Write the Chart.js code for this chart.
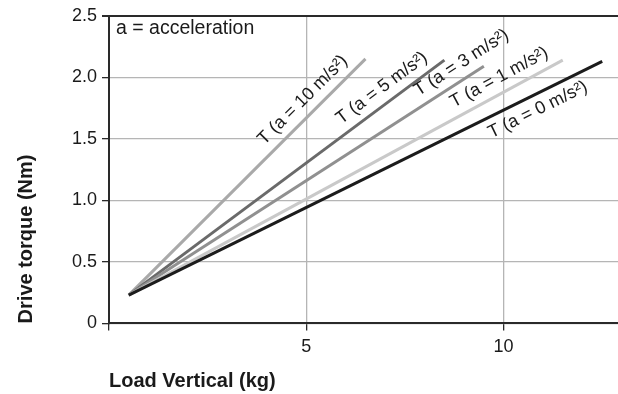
<!DOCTYPE html>
<html>
<head>
<meta charset="utf-8">
<script src="https://cdn.jsdelivr.net/npm/chart.js@4"></script>
<style>
html,body{margin:0;padding:0;background:#fff;}
#wrap{width:618px;height:394px;}
</style>
</head>
<body>
<div id="wrap"><canvas id="c" width="618" height="394"></canvas></div>
<script>
// ---- data ----
const seriesNames = ["T (a = 10 m/s²)", "T (a = 5 m/s²)", "T (a = 3 m/s²)", "T (a = 1 m/s²)", "T (a = 0 m/s²)"];
const startLoad = 0.5;            // kg
const startTorque = 0.23;         // Nm
const endLoads = [6.5, 8.5, 9.5, 11.5, 12.5];       // kg
const endTorques = [2.15, 2.14, 2.09, 2.14, 2.13];  // Nm
const xTicks = [0, 5, 10];
const yTicks = [0, 0.5, 1.0, 1.5, 2.0, 2.5];

// ---- styles ----
const lineColors = ["#a9a9a9", "#6a6a6a", "#909090", "#c9c9c9", "#1c1c1c"];
const labelAlong = [0.78, 0.83, 0.96, 0.87, 0.85];
const labelSide = [1, 1, 1, 1, -1];
const FONT = "'Liberation Sans', Arial, Helvetica, sans-serif";
const TXT = "#1a1a1a";

const datasets = seriesNames.map((n, i) => ({
  label: n,
  data: [{x: startLoad, y: startTorque}, {x: endLoads[i], y: endTorques[i]}],
  borderColor: lineColors[i],
  borderWidth: 3,
  pointRadius: 0,
  fill: false,
  tension: 0,
  order: 5 - i
}));

const lineLabels = {
  id: 'lineLabels',
  afterDatasetsDraw(chart) {
    const ctx = chart.ctx;
    const xs = chart.scales.x, ys = chart.scales.y;
    ctx.save();
    ctx.font = "18px " + FONT;
    ctx.fillStyle = TXT;
    ctx.textAlign = 'center';
    ctx.textBaseline = 'middle';
    chart.data.datasets.forEach((ds, i) => {
      const p0 = ds.data[0], p1 = ds.data[1];
      const x0 = xs.getPixelForValue(p0.x), y0 = ys.getPixelForValue(p0.y);
      const x1 = xs.getPixelForValue(p1.x), y1 = ys.getPixelForValue(p1.y);
      const dx = x1 - x0, dy = y1 - y0, len = Math.hypot(dx, dy);
      const ux = dx / len, uy = dy / len;
      const t = labelAlong[i];
      const off = 15 * labelSide[i];
      const cx = x0 + dx * t + uy * off;
      const cy = y0 + dy * t - ux * off;
      ctx.save();
      ctx.translate(cx, cy);
      ctx.rotate(Math.atan2(dy, dx));
      ctx.fillText(ds.label, 0, 0);
      ctx.restore();
    });
    ctx.font = "19.5px " + FONT;
    ctx.textAlign = 'left';
    ctx.textBaseline = 'alphabetic';
    ctx.fillText("a = acceleration", chart.chartArea.left + 7, chart.chartArea.top + 18);
    ctx.restore();
  }
};

new Chart(document.getElementById('c'), {
  type: 'line',
  data: { datasets },
  options: {
    responsive: false,
    animation: false,
    devicePixelRatio: 1,
    layout: { padding: { top: 6, right: 0, left: 14, bottom: 1 } },
    plugins: { legend: { display: false }, tooltip: { enabled: false } },
    scales: {
      x: {
        type: 'linear',
        min: 0, max: 12.9,
        afterBuildTicks: (s) => { s.ticks = xTicks.map(v => ({value: v})); },
        ticks: {
          font: { family: FONT, size: 18 },
          color: TXT,
          padding: 6,
          callback: (v) => v === 0 ? '' : String(v)
        },
        grid: {
          color: (c) => c.tick && c.tick.value === 0 ? '#2a2a2a' : '#b5b5b5',
          lineWidth: 1.3,
          tickColor: '#2a2a2a',
          tickLength: 7
        },
        border: { color: '#2a2a2a', width: 2 },
        title: {
          display: true, text: 'Load Vertical (kg)', align: 'start',
          font: { family: FONT, size: 20, weight: 'bold' }, color: TXT,
          padding: { top: 5, bottom: 0 }
        }
      },
      y: {
        type: 'linear',
        min: 0, max: 2.5,
        afterBuildTicks: (s) => { s.ticks = yTicks.map(v => ({value: v})); },
        ticks: {
          font: { family: FONT, size: 18 },
          color: TXT,
          padding: 5,
          callback: (v) => v === 0 ? '0' : Number(v).toFixed(1)
        },
        grid: {
          color: (c) => c.tick && c.tick.value === 2.5 ? '#2a2a2a' : '#b5b5b5',
          lineWidth: (c) => c.tick && c.tick.value === 2.5 ? 2 : 1.3,
          tickColor: '#2a2a2a',
          tickLength: 7
        },
        border: { color: '#2a2a2a', width: 2 },
        title: {
          display: true, text: 'Drive torque (Nm)', align: 'start',
          font: { family: FONT, size: 20, weight: 'bold' }, color: TXT,
          padding: { top: 0, bottom: 29 }
        }
      }
    }
  },
  plugins: [lineLabels]
});
</script>
</body>
</html>
